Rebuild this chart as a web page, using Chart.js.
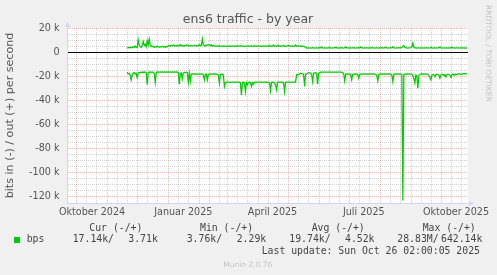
<!DOCTYPE html>
<html>
<head>
<meta charset="utf-8">
<title>ens6 traffic - by year</title>
<script src="https://cdn.jsdelivr.net/npm/chart.js@4.4.1/dist/chart.umd.min.js"></script>
<style>
  html, body { margin: 0; padding: 0; background: #f0f0f0; }
  #wrap { position: relative; width: 497px; height: 275px; overflow: hidden; font-family: "DejaVu Sans", sans-serif; }
  #chart { position: absolute; left: 0; top: 0; }
  .t { position: absolute; white-space: pre; line-height: 1; }
  .mono { font-family: "DejaVu Sans Mono", monospace; font-size: 9.8px; color: #444; }
</style>
</head>
<body>
<div id="wrap">
  <canvas id="chart" width="497" height="275"></canvas>
  <div class="t" style="left:248px; top:13.4px; transform:translateX(-50%); font-size:12.5px; color:#555;">ens6 traffic - by year</div>
  <div class="t" style="left:492px; top:5px; transform-origin:0 0; transform:rotate(90deg); font-size:7.5px; color:#c4c4c4;">RRDTOOL / TOBI OETIKER</div>

  <div class="t mono" style="left:89.3px; top:222.7px;">Cur (-/+)</div>
  <div class="t mono" style="left:200px; top:222.7px;">Min (-/+)</div>
  <div class="t mono" style="left:311.7px; top:222.7px;">Avg (-/+)</div>
  <div class="t mono" style="left:422.7px; top:222.7px;">Max (-/+)</div>

  <div style="position:absolute; left:14px; top:237px; width:6px; height:6px; background:#00cc00;"></div>
  <div class="t mono" style="left:26.7px; top:234.2px;">bps</div>
  <div class="t mono" style="left:72.7px; top:234.2px;">17.14k/</div>
  <div class="t mono" style="left:128.3px; top:234.2px;">3.71k</div>
  <div class="t mono" style="left:186.7px; top:234.2px;">3.76k/</div>
  <div class="t mono" style="left:236.7px; top:234.2px;">2.29k</div>
  <div class="t mono" style="left:289.3px; top:234.2px;">19.74k/</div>
  <div class="t mono" style="left:345px; top:234.2px;">4.52k</div>
  <div class="t mono" style="left:397.3px; top:234.2px;">28.83M/</div>
  <div class="t mono" style="left:441px; top:234.2px;">642.14k</div>

  <div class="t mono" style="left:261.7px; top:245.7px;">Last update: Sun Oct 26 02:00:05 2025</div>
  <div class="t" style="left:223.3px; top:260.7px; font-size:7.5px; color:#c4c4c4;">Munin 2.0.76</div>
</div>
<script>
// x = Tage seit 22.09.2024, y = kbit/s (out positiv, in negativ)
const firstDay = 60;

const outKbps = [
  3.8, 3.6, 4.0, 3.5, 4.2, 3.7, 4.5, 3.9, 5.0, 4.0, 3.8, 10.2, 6.0, 4.5, 3.8, 5.5, 8.8, 5.5, 6.5, 4.5,
  9.4, 6.0, 10.8, 5.5, 4.8, 5.0, 4.3, 4.0, 4.6, 4.2, 5.0, 4.4, 4.0, 4.5, 4.3, 4.8, 4.2, 4.5, 4.0, 4.6,
  4.4, 5.3, 5.0, 5.6, 5.0, 5.2, 6.0, 5.1, 5.4, 5.0, 5.8, 5.2, 5.0, 6.2, 5.2, 5.5, 5.0, 5.4, 5.2, 6.0,
  5.3, 5.0, 5.6, 5.2, 5.4, 5.0, 5.3, 5.8, 5.2, 5.0, 5.5, 5.2, 6.3, 5.4, 5.6, 11.0, 6.2, 5.4, 5.0, 5.6,
  6.0, 6.4, 5.8, 5.5, 6.2, 5.0, 5.4, 5.2, 4.8, 5.0, 5.2, 4.9, 5.3, 5.0, 4.8, 5.0, 5.1, 4.9, 5.0, 4.8,
  5.0, 4.9, 5.1, 4.8, 5.0, 5.2, 4.9, 5.0, 4.8, 5.0, 5.1, 4.9, 5.0, 5.3, 5.0, 4.9, 5.0, 4.8, 5.0, 4.9,
  5.0, 5.2, 4.9, 5.0, 5.1, 4.8, 5.0, 5.4, 5.0, 4.9, 5.0, 5.1, 4.9, 5.0, 4.8, 5.0, 5.2, 4.9, 5.0, 5.1,
  4.9, 5.0, 5.6, 5.0, 4.8, 5.0, 6.0, 5.0, 5.2, 5.0, 4.9, 5.7, 5.0, 5.1, 4.9, 5.0, 5.5, 5.0, 4.8, 5.0,
  5.1, 5.6, 5.0, 4.9, 5.0, 5.2, 4.8, 5.0, 6.0, 5.0, 5.1, 4.9, 5.0, 5.2, 4.8, 5.0, 4.7, 4.5, 4.0, 3.5,
  3.4, 3.5, 3.6, 3.4, 3.5, 3.8, 3.5, 3.4, 3.6, 3.5, 3.4, 3.7, 3.5, 3.6, 4.2, 3.5, 3.4, 3.6, 3.5, 3.4,
  3.6, 3.5, 3.8, 3.5, 3.4, 3.6, 3.5, 3.5, 4.0, 3.6, 3.5, 3.4, 3.6, 3.5, 3.7, 3.5, 3.4, 3.6, 4.3, 3.6,
  3.5, 3.6, 3.4, 3.5, 3.6, 3.5, 3.8, 3.5, 3.4, 3.6, 3.5, 3.7, 3.5, 4.2, 3.6, 3.5, 3.4, 3.6, 3.5, 3.6,
  3.5, 3.4, 3.6, 3.5, 3.8, 3.5, 3.6, 3.4, 3.5, 3.6, 3.5, 3.4, 3.6, 3.5, 3.7, 3.4, 3.5, 3.6, 4.0, 3.5,
  3.4, 3.6, 3.5, 3.5, 3.7, 4.6, 3.6, 3.5, 3.4, 3.6, 3.5, 3.6, 3.7, 3.5, 3.8, 5.0, 5.5, 4.0, 3.6, 3.5,
  3.4, 3.6, 3.5, 3.8, 4.4, 7.5, 4.0, 3.5, 3.6, 3.4, 3.5, 3.6, 3.5, 3.4, 3.6, 3.5, 3.4, 3.6, 3.5, 3.6,
  3.5, 3.4, 3.6, 3.9, 3.5, 3.4, 3.6, 3.5, 3.4, 3.6, 3.5, 3.6, 4.2, 3.5, 3.4, 3.6, 3.5, 3.4, 3.6, 3.5,
  3.4, 3.6, 3.5, 3.4, 4.0, 3.5, 3.6, 3.4, 3.5, 3.6, 3.5, 3.4, 3.6, 3.5, 3.4, 3.5, 3.6, 3.4, 3.5, 3.4
];

const inKbps = [
  -16.6, -18, -17.5, -19, -23, -19, -17.5, -17, -18, -17.5, -21, -17.5, -17, -16.8, -16.6, -17, -16.5, -16.8, -16.4, -17,
  -27, -17, -16.6, -16.4, -16.8, -16.5, -16.6, -17.5, -25, -17, -16.4, -16.6, -16.5, -16.4, -16.5, -16.4, -16.5, -16.4, -16.5, -16.4,
  -16.5, -16.4, -16.5, -16.4, -16.5, -16.4, -16.5, -16.4, -16.6, -16.4, -16.5, -16.8, -26.5, -18, -17.2, -22, -17.5, -16.8, -17, -16.6,
  -17, -25, -17.5, -24, -18.2, -18, -18.2, -18, -18.3, -18.1, -18.2, -18, -18.2, -18.3, -18.1, -18.2, -19, -23, -18.5, -18.2,
  -23, -18.5, -18.2, -18, -18.2, -18.3, -18, -18.2, -18.1, -18.2, -18.5, -19, -25.7, -18.5, -18.2, -18.4, -19, -28.5, -25.5, -24.9,
  -24.9, -24.8, -24.9, -25, -24.9, -24.8, -24.9, -25, -24.9, -24.8, -24.9, -25, -24.9, -25.5, -35.4, -25, -24.9, -25.5, -32.6, -25.2,
  -27, -25, -24.9, -25.5, -28.5, -25.2, -26.5, -25, -24.9, -24.8, -24.9, -25, -24.9, -24.8, -24.9, -25, -24.9, -24.8, -24.9, -25,
  -24.9, -25, -25.5, -32, -25, -24.9, -25, -26, -27, -31.2, -25, -24.9, -24.8, -24.9, -25, -24.9, -25.5, -32.6, -25, -24.9,
  -24.8, -24.9, -25, -24.9, -24.8, -24.9, -25, -24.9, -24.9, -18.8, -18.5, -18.6, -18, -17.4, -17.8, -18, -18.5, -28.5, -18.5, -18,
  -17.5, -17, -17.2, -17.5, -18.5, -24.3, -17.5, -17.2, -17, -18, -26.5, -17.5, -17, -16.6, -16.6, -16.5, -16.6, -16.6, -16.5, -16.6,
  -16.6, -16.5, -16.6, -16.6, -16.5, -16.6, -16.6, -16.5, -16.6, -16.6, -16.5, -16.6, -16.6, -16.5, -16.6, -17, -18, -23.8, -18.2, -18,
  -18.2, -18, -18.3, -18.5, -23, -18.5, -18.2, -18, -18.2, -18.1, -18.5, -21.6, -18.4, -18.2, -18, -18.2, -18.1, -18.2, -18, -18.2,
  -18.1, -18.2, -18, -18.2, -18.1, -18.2, -18, -18.2, -18.5, -19.5, -23.8, -18.5, -18.2, -18, -18.2, -18.1, -18.2, -18, -18.2, -18.1,
  -18.2, -18, -18.2, -18.1, -19, -24.3, -18.5, -18.2, -18, -18.2, -18.1, -18.2, -18, -18.2, -18.5, -123, -18.5, -18.2, -18, -18.2,
  -18.1, -18.2, -18, -18.2, -18.5, -19.5, -22, -25.7, -19, -19.5, -29.8, -19, -18.5, -18.2, -18, -18.2, -18.1, -18.2, -18, -18.2,
  -18.5, -19.5, -21, -23, -19, -18.5, -19, -20.5, -18.5, -18.2, -18.5, -19, -21.5, -18.8, -18.2, -18.5, -19.5, -18.5, -20.5, -18.8,
  -18.2, -18.5, -19, -21, -18.5, -18.2, -19.2, -18.4, -18.2, -18.5, -18.2, -18, -18.3, -18.5, -18.1, -17.9, -18, -17.8, -18, -17.8
];

// Monatsanfang (rote Linien), 11. und 21. (graue Linien), Beschriftung Mitte Quartalsmonat
const monthDays = [9, 40, 70, 101, 132, 160, 191, 221, 252, 282, 313, 344, 374];
const tenDays = [19, 29, 50, 60, 80, 90, 111, 121, 142, 152, 170, 180, 201, 211, 231, 241, 262, 272, 292, 302, 323, 333, 354, 364, 384, 394];
const quarterDays = [25, 116, 205, 296, 388];
const quarterLabels = ["Oktober 2024", "Januar 2025", "April 2025", "Juli 2025", "Oktober 2025"];

const GREEN = "#00cc00";
const AXIS = "#cfd6f8";
const MGRID = "rgba(225, 120, 120, 0.5)";
const GRID = "rgba(150, 150, 150, 0.42)";
const TXT = "#555";

const canvasBg = {
  id: "canvasBg",
  beforeDraw(chart) {
    const { ctx, chartArea: a } = chart;
    ctx.save();
    ctx.fillStyle = "#fff";
    ctx.fillRect(a.left, a.top, a.right - a.left, a.bottom - a.top);
    ctx.restore();
  }
};

const arrows = {
  id: "arrows",
  afterDraw(chart) {
    const { ctx, chartArea: a } = chart;
    const x = Math.round(a.left) + 0.5;
    const y = Math.round(a.bottom) + 0.5;
    ctx.save();
    ctx.fillStyle = AXIS;
    ctx.beginPath();
    ctx.moveTo(x, a.top - 6);
    ctx.lineTo(x - 2.5, a.top - 1);
    ctx.lineTo(x + 2.5, a.top - 1);
    ctx.closePath();
    ctx.fill();
    ctx.beginPath();
    ctx.moveTo(a.right + 6, y);
    ctx.lineTo(a.right + 1, y - 2.5);
    ctx.lineTo(a.right + 1, y + 2.5);
    ctx.closePath();
    ctx.fill();
    ctx.fillRect(x - 0.5, a.top - 1.5, 1, 2);
    ctx.fillRect(a.right - 0.5, y - 0.5, 2, 1);
    ctx.restore();
  }
};

const xTicks = [...monthDays, ...tenDays, ...quarterDays].sort((a, b) => a - b);

new Chart(document.getElementById("chart"), {
  type: "line",
  data: {
    datasets: [
      { label: "out", data: outKbps.map((v, i) => ({ x: firstDay + i, y: v })), borderColor: GREEN, borderWidth: 1.25, pointRadius: 0, tension: 0 },
      { label: "in", data: inKbps.map((v, i) => ({ x: firstDay + i, y: v })), borderColor: GREEN, borderWidth: 1.25, pointRadius: 0, tension: 0 }
    ]
  },
  options: {
    responsive: false,
    animation: false,
    events: [],
    layout: { padding: { left: 0, top: 28, right: 29, bottom: 52 } },
    plugins: { legend: { display: false }, tooltip: { enabled: false } },
    scales: {
      x: {
        type: "linear",
        min: 0,
        max: 400,
        afterBuildTicks: s => { s.ticks = xTicks.map(v => ({ value: v })); },
        afterFit: s => { s.height = 20; },
        ticks: {
          autoSkip: false,
          maxRotation: 0,
          padding: 3.5,
          color: TXT,
          font: { family: "DejaVu Sans", size: 9.6 },
          callback: v => { const k = quarterDays.indexOf(v); return k >= 0 ? quarterLabels[k] : ""; }
        },
        grid: {
          z: -2,
          drawTicks: false,
          lineWidth: 1,
          color: c => {
            const v = c.tick ? c.tick.value : null;
            if (monthDays.includes(v)) return MGRID;
            if (tenDays.includes(v)) return GRID;
            return "rgba(0,0,0,0)";
          }
        },
        border: { color: AXIS, width: 1, dash: c => (c.tick ? [1, 1] : []) }
      },
      y: {
        min: -125,
        max: 20,
        afterFit: s => { s.width = 67; },
        title: {
          display: true,
          text: "bits in (-) / out (+) per second",
          color: TXT,
          font: { family: "DejaVu Sans", size: 11.1 },
          padding: { top: 3.8, bottom: 0 }
        },
        ticks: {
          stepSize: 5,
          autoSkip: false,
          padding: 7.5,
          color: TXT,
          font: { family: "DejaVu Sans", size: 9.6 },
          callback: v => (v % 20 === 0 ? (v === 0 ? "0" : v + " k") : "")
        },
        grid: {
          z: -1,
          drawTicks: false,
          lineWidth: 1,
          color: c => {
            const v = c.tick ? c.tick.value : null;
            if (v === 0) return "#000";
            if (v !== null && v % 20 === 0) return MGRID;
            return GRID;
          }
        },
        border: { color: AXIS, width: 1, dash: c => (c.tick && c.tick.value !== 0 ? [1, 1] : []) }
      }
    }
  },
  plugins: [canvasBg, arrows]
});
</script>
</body>
</html>
